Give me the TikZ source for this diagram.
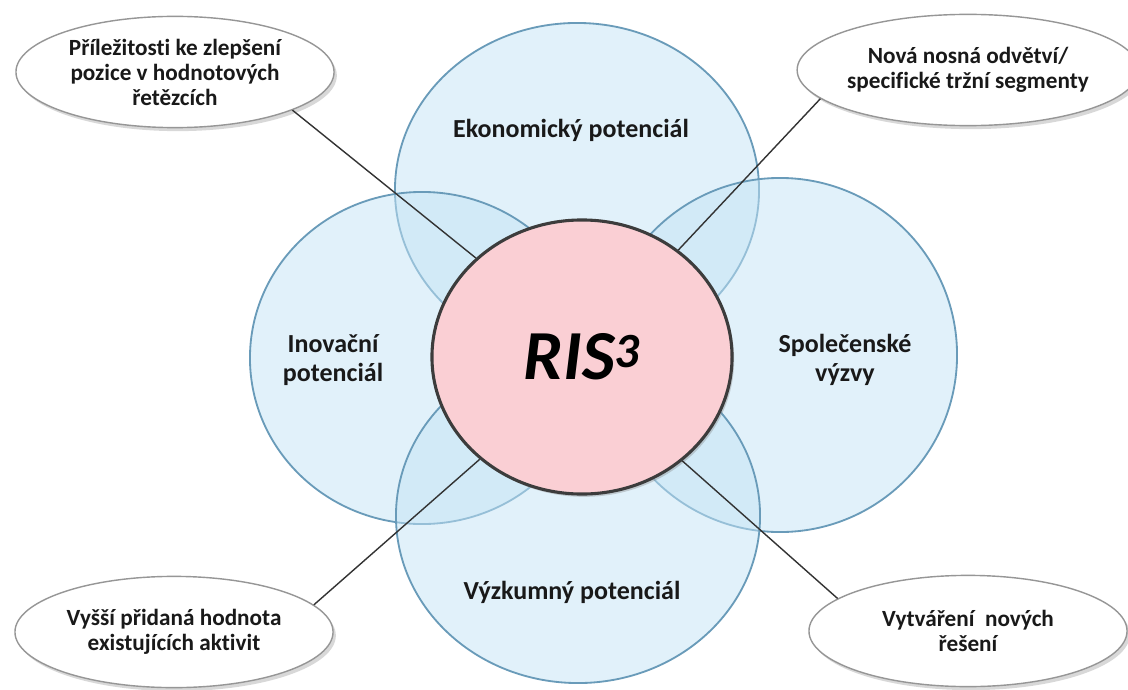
\documentclass[tikz,border=0pt]{standalone}
\usepackage{fontspec}
\setmainfont[Ligatures={NoCommon}]{Carlito}
\usetikzlibrary{shapes.geometric,shadows}

\definecolor{circfill}{RGB}{196,228,246}
\definecolor{circline}{RGB}{105,155,185}
\definecolor{risfill}{RGB}{250,207,212}
\definecolor{risline}{RGB}{60,60,60}
\definecolor{calline}{RGB}{150,150,150}
\definecolor{txt}{RGB}{25,25,25}

\begin{document}
\begin{tikzpicture}[
	x=0.025cm,
	y=-0.025cm,
	potential/.style={
		ellipse,
		draw=circline,
		line width=1.3pt,
		fill=circfill,
		fill opacity=0.5,
		inner sep=0pt
	},
	circtext/.style={
		align=center,
		text=txt,
		font=\fontsize{18.5}{21}\selectfont\bfseries
	},
	ris/.style={
		ellipse,
		draw=risline,
		line width=2.2pt,
		fill=risfill,
		inner sep=0pt,
		minimum width=7.5cm,
		minimum height=6.85cm,
		drop shadow={opacity=0.35,shadow xshift=1.5pt,shadow yshift=-2pt},
		text=black,
		font=\fontsize{50}{50}\selectfont\bfseries\itshape
	},
	callout/.style={
		ellipse,
		draw=calline,
		line width=1pt,
		fill=white,
		inner sep=0pt,
		minimum width=7.95cm,
		minimum height=2.78cm,
		drop shadow={opacity=0.3,shadow xshift=2pt,shadow yshift=-2.5pt},
		align=center,
		text=txt,
		font=\fontsize{16.5}{17.8}\selectfont\bfseries
	},
	connector/.style={
		draw=black!80,
		line width=1pt
	},
]

\path[fill=white] (0,0) rectangle (1128,689);
\useasboundingbox (0,0) rectangle (1128,689);

\node[potential, minimum width=9.1cm, minimum height=8.35cm] (ekon) at (577,190) {};
\node[potential, minimum width=8.6cm, minimum height=8.3cm] (inov) at (422,358) {};
\node[potential, minimum width=8.85cm, minimum height=8.85cm] (spol) at (780,355) {};
\node[potential, minimum width=9.1cm, minimum height=8.35cm] (vyzk) at (578,516) {};

\node[circtext] (ekonT) at (571,130) {Ekonomický potenciál};
\node[circtext] (inovT) at (333,360) {Inovační\\potenciál};
\node[circtext] (spolT) at (845,360) {Společenské\\výzvy};
\node[circtext] (vyzkT) at (572,592) {Výzkumný potenciál};

\node[ris] (ris) at (582,357) {RIS\textsuperscript{3}};

\node[callout] (pril) at (175,72) {Příležitosti ke zlepšení\\pozice v hodnotových\\řetězcích};
\node[callout] (nova) at (968,70) {Nová nosná odvětví/\\specifické tržní segmenty};
\node[callout] (vyssi) at (174,632) {Vyšší přidaná hodnota\\existujících aktivit};
\node[callout] (vytv) at (968,631) {Vytváření\ \ nových\\řešení};

\draw[connector] (pril.-18) -- (ris.137);
\draw[connector] (nova.191) -- (ris.48);
\draw[connector] (vyssi.11) -- (ris.-135);
\draw[connector] (vytv.166) -- (ris.-46);

\end{tikzpicture}
\end{document}
